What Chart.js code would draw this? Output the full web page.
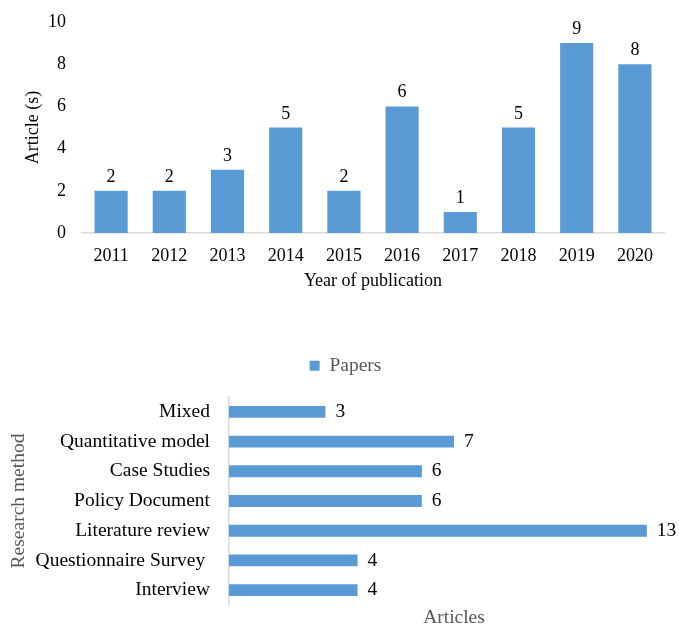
<!DOCTYPE html>
<html>
<head>
<meta charset="utf-8">
<script src="https://cdn.jsdelivr.net/npm/chart.js@4/dist/chart.umd.min.js"></script>
<style>
  html, body { margin: 0; padding: 0; background: #fff; overflow: hidden; }
  #wrap { position: relative; width: 679px; height: 627px; }
  canvas { position: absolute; left: 0; }
  #chart_years { top: 0; }
  #chart_methods { top: 300px; }
</style>
</head>
<body>
<div id="wrap">
  <canvas id="chart_years" width="679" height="300"></canvas>
  <canvas id="chart_methods" width="679" height="330"></canvas>
</div>
<script>
    // Données
    const years = ['2011', '2012', '2013', '2014', '2015', '2016', '2017', '2018', '2019', '2020'];
    const yearCounts = [2, 2, 3, 5, 2, 6, 1, 5, 9, 8];

    const methods = ['Mixed', 'Quantitative model', 'Case Studies', 'Policy Document',
        'Literature review', 'Questionnaire Survey ', 'Interview'];
    const methodCounts = [3, 7, 6, 6, 13, 4, 4];

    const barColor = '#5B9BD5';
    const axisColor = '#D9D9D9';
    const fontFamily = '"Liberation Serif", "Times New Roman", serif';

    Chart.defaults.font.family = fontFamily;
    Chart.defaults.font.size = 18;
    Chart.defaults.color = '#000';

    // Valeurs écrites au bout des barres
    var valueLabels = {
        id: 'valueLabels',
        afterDatasetsDraw: function (chart, args, opts) {
            var ctx = chart.ctx;
            var meta = chart.getDatasetMeta(0);
            var data = chart.data.datasets[0].data;
            var horizontal = chart.options.indexAxis === 'y';
            ctx.save();
            ctx.font = opts.size + 'px ' + fontFamily;
            ctx.fillStyle = '#000';
            meta.data.forEach(function (bar, i) {
                if (horizontal) {
                    ctx.textAlign = 'left';
                    ctx.textBaseline = 'middle';
                    ctx.fillText(String(data[i]), bar.x + 10, bar.y);
                } else {
                    ctx.textAlign = 'center';
                    ctx.textBaseline = 'alphabetic';
                    ctx.fillText(String(data[i]), bar.x, bar.y - 9);
                }
            });
            ctx.restore();
        }
    };

    new Chart('chart_years', {
        type: 'bar',
        data: {
            labels: years,
            datasets: [{
                label: 'Articles',
                data: yearCounts,
                backgroundColor: barColor,
                barPercentage: 0.57,
                categoryPercentage: 1
            }]
        },
        options: {
            responsive: false,
            animation: false,
            devicePixelRatio: 1,
            layout: { padding: { top: 22, right: 15, left: 0, bottom: 0 } },
            plugins: { legend: { display: false }, tooltip: { enabled: false }, valueLabels: { size: 18 } },
            scales: {
                x: {
                    grid: { display: false, drawTicks: false },
                    border: { display: true, color: axisColor, width: 1.5 },
                    ticks: { padding: 12, color: '#000' },
                    title: { display: true, text: 'Year of publication', color: '#000', padding: { top: 0, bottom: 8 } },
                    afterFit: function (scale) { scale.height = 67; }
                },
                y: {
                    min: 0,
                    max: 10,
                    // tickLength sert d'écart entre les libellés et le graphe
                    grid: { display: false, drawTicks: true, tickLength: 16 },
                    border: { display: false },
                    ticks: { stepSize: 2, padding: 0, color: '#000' },
                    title: { display: true, text: 'Article (s)', color: '#000', padding: { top: 22, bottom: 0 } },
                    afterFit: function (scale) { scale.width = 82; }
                }
            }
        },
        plugins: [valueLabels]
    });

    new Chart('chart_methods', {
        type: 'bar',
        data: {
            labels: methods,
            datasets: [{
                label: 'Papers',
                data: methodCounts,
                backgroundColor: barColor,
                barPercentage: 0.4,
                categoryPercentage: 1
            }]
        },
        options: {
            indexAxis: 'y',
            responsive: false,
            animation: false,
            devicePixelRatio: 1,
            layout: { padding: { top: 46, right: 0, left: 12, bottom: 0 } },
            plugins: {
                legend: {
                    position: 'top',
                    weight: 3000,
                    labels: { boxWidth: 10, boxHeight: 10, padding: 10, color: '#595959', font: { size: 19.5 } }
                },
                // espace vide entre la légende et le graphe
                title: { display: true, text: ' ', padding: 0, font: { size: 10, lineHeight: 1.15 } },
                tooltip: { enabled: false },
                valueLabels: { size: 19.5 }
            },
            scales: {
                x: {
                    min: 0,
                    max: 14,
                    grid: { display: false, drawTicks: false },
                    border: { display: false },
                    ticks: { display: false },
                    title: { display: true, text: 'Articles', color: '#595959', padding: 0, font: { size: 19.5 } },
                    afterFit: function (scale) { scale.height = 25; }
                },
                y: {
                    grid: { display: false, drawTicks: true, tickLength: 19 },
                    border: { display: true, color: axisColor, width: 1.5 },
                    ticks: { padding: 0, color: '#000', font: { size: 19.5 } },
                    title: { display: true, text: 'Research method', color: '#595959', padding: { top: -5, bottom: 0 }, font: { size: 19.5 } },
                    afterFit: function (scale) { scale.width = 217; }
                }
            }
        },
        plugins: [valueLabels]
    });
</script>
</body>
</html>
